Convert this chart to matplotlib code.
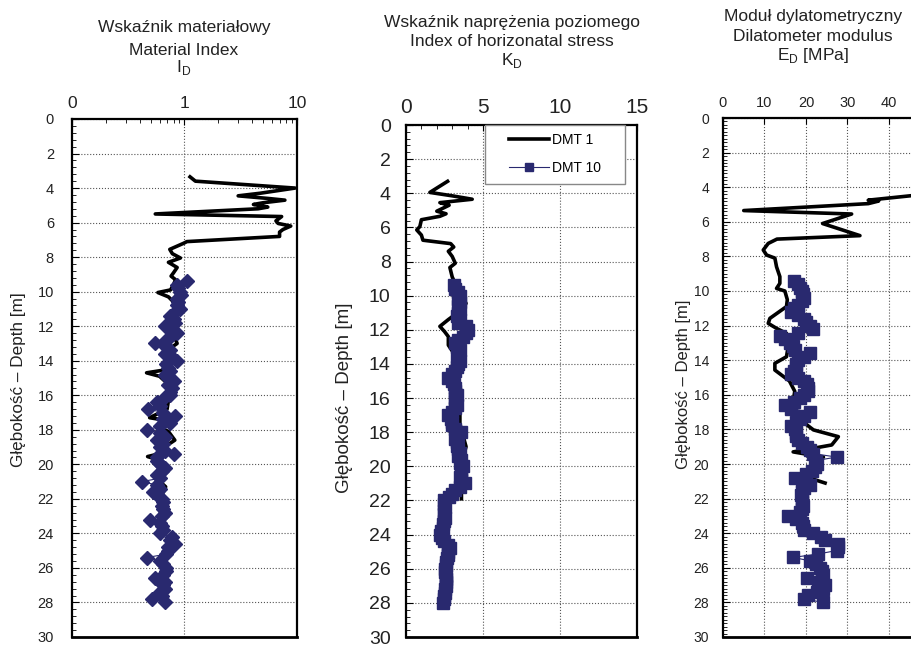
import numpy as np
import matplotlib
matplotlib.use("Agg")
import matplotlib.pyplot as plt
from matplotlib.ticker import MultipleLocator, FixedLocator, LogLocator, NullFormatter
from matplotlib.legend_handler import HandlerLine2D

plt.rcParams['font.family'] = ['Liberation Sans', 'DejaVu Sans']
plt.rcParams['mathtext.fontset'] = 'custom'
plt.rcParams['mathtext.rm'] = 'Liberation Sans'

NAVY = '#29296f'

# DMT 1 soundings (black line)
dmt1_id_depth = [3.35, 3.6, 4.0, 4.3, 4.45, 4.6, 4.7, 4.85, 4.95, 5.1, 5.2, 5.5, 5.65, 5.9, 6.05,
                 6.2, 6.4, 6.55, 6.8, 7.1, 7.2, 7.55, 7.8, 8.05, 8.3, 8.6, 8.9, 9.1, 9.3, 9.6,
                 9.9, 10.05, 10.3, 10.6, 11.0, 11.5, 12.0, 12.5, 13.0, 13.4, 13.8, 14.2, 14.5,
                 14.7, 14.9, 15.3, 15.8, 16.3, 16.8, 17.3, 17.5, 17.9, 18.1, 18.6, 18.9, 19.3,
                 19.55, 19.8, 20.2, 20.5, 20.8, 21.3, 21.6, 21.9]
dmt1_id = [1.12, 1.25, 9.6, 4.7, 3.0, 5.5, 7.8, 5.0, 4.1, 5.5, 4.5, 0.55, 7.3, 6.5, 6.8,
           8.8, 7.5, 7.0, 7.0, 1.05, 0.98, 0.74, 0.78, 0.92, 0.72, 0.86, 0.80, 0.76, 0.83, 0.80,
           0.75, 0.58, 0.72, 0.80, 0.85, 0.80, 0.78, 0.80, 0.86, 0.70, 0.78, 0.70, 0.72,
           0.46, 0.60, 0.70, 0.75, 0.72, 0.70, 0.49, 0.75, 0.62, 0.72, 0.82, 0.70, 0.68,
           0.47, 0.62, 0.68, 0.60, 0.56, 0.68, 0.65, 0.60]

dmt1_kd_depth = [3.3, 3.95, 4.15, 4.35, 4.55, 4.7, 5.05, 5.2, 5.35, 5.55, 5.95, 6.15, 6.45, 6.75,
                 6.95, 7.15, 7.4, 7.7, 8.1, 8.35, 8.9, 9.3, 9.8, 10.45, 10.9, 11.4, 11.8, 12.1,
                 12.4, 12.9, 13.5, 14.2, 15.0, 15.7, 16.5, 17.5, 18.2, 18.85, 19.5, 20.2, 20.8,
                 21.4, 21.9]
dmt1_kd = [2.7, 1.55, 3.0, 4.3, 2.2, 2.8, 2.0, 2.6, 2.2, 1.0, 0.9, 0.7, 1.0, 1.1,
           2.9, 3.1, 2.75, 3.0, 3.2, 2.85, 3.0, 3.2, 3.4, 3.9, 3.5, 2.75, 2.2, 2.5,
           2.75, 2.75, 3.2, 3.3, 3.4, 3.6, 3.5, 3.5, 3.7, 3.9, 3.7, 3.8, 3.7,
           3.6, 3.6]

dmt1_ed_depth = [4.45, 4.75, 4.8, 4.95, 5.35, 5.55, 6.1, 6.8, 7.0, 7.25, 7.63, 7.92, 8.1, 8.6,
                 9.17, 9.56, 9.85, 10.0, 10.5, 10.9, 11.58, 11.87, 12.16, 12.45, 13.2, 13.8,
                 14.18, 14.57, 15.2, 15.8, 16.9, 17.3, 17.7, 18.03, 18.42, 18.9, 19.3, 19.6,
                 20.0, 20.5, 20.9, 21.1]
dmt1_ed = [47.0, 35.0, 37.5, 35.0, 5.0, 31.0, 24.0, 33.0, 13.0, 10.9, 9.7, 10.5, 12.5, 12.9,
           13.7, 13.7, 12.9, 14.9, 15.5, 15.3, 11.3, 10.9, 12.9, 15.3, 15.7, 15.3,
           12.5, 12.5, 16.0, 17.3, 16.5, 17.7, 20.0, 21.8, 27.8, 26.2, 16.9, 24.2,
           22.0, 20.2, 22.0, 24.6]

# DMT 10 soundings (navy markers), every 0.2 m
dmt10_depth = [9.4, 9.6, 9.8, 10.0, 10.2, 10.4, 10.6, 10.8, 11.0, 11.2, 11.4, 11.6, 11.8, 12.0,
               12.2, 12.4, 12.6, 12.8, 13.0, 13.2, 13.4, 13.6, 13.8, 14.0, 14.2, 14.4, 14.6,
               14.8, 15.0, 15.2, 15.4, 15.6, 15.8, 16.0, 16.2, 16.4, 16.6, 16.8, 17.0, 17.2,
               17.4, 17.6, 17.8, 18.0, 18.2, 18.4, 18.6, 18.8, 19.0, 19.2, 19.4, 19.6, 19.8,
               20.0, 20.2, 20.4, 20.6, 20.8, 21.0, 21.2, 21.4, 21.6, 21.8, 22.0, 22.2, 22.4,
               22.6, 22.8, 23.0, 23.2, 23.4, 23.6, 23.8, 24.0, 24.2, 24.4, 24.6, 24.8, 25.0,
               25.2, 25.4, 25.6, 25.8, 26.0, 26.2, 26.4, 26.6, 26.8, 27.0, 27.2, 27.4, 27.6,
               27.8, 28.0]
dmt10_id = [1.05, 0.85, 0.88, 0.91, 0.94, 0.85, 0.88, 0.85, 0.91, 0.82, 0.74, 0.80, 0.82, 0.67,
            0.77, 0.85, 0.74, 0.69, 0.55, 0.69, 0.74, 0.67, 0.77, 0.85, 0.69, 0.72, 0.74,
            0.67, 0.72, 0.80, 0.72, 0.77, 0.74, 0.74, 0.65, 0.57, 0.61, 0.47, 0.65, 0.82,
            0.65, 0.74, 0.61, 0.46, 0.61, 0.67, 0.57, 0.65, 0.61, 0.67, 0.80, 0.57, 0.57,
            0.61, 0.67, 0.63, 0.57, 0.61, 0.42, 0.57, 0.61, 0.53, 0.57, 0.63, 0.65, 0.63,
            0.65, 0.67, 0.63, 0.49, 0.61, 0.63, 0.65, 0.61, 0.77, 0.74, 0.82, 0.72, 0.72,
            0.69, 0.46, 0.61, 0.65, 0.69, 0.69, 0.65, 0.55, 0.67, 0.65, 0.67, 0.61, 0.63,
            0.51, 0.67]
dmt10_kd = [3.1, 3.2, 3.4, 3.5, 3.4, 3.5, 3.4, 3.5, 3.4, 3.3, 3.5, 3.4, 3.9, 4.05,
            3.9, 3.7, 3.4, 3.2, 3.3, 3.5, 3.4, 3.3, 3.5, 3.4, 3.3, 3.2, 3.0,
            2.7, 3.0, 3.1, 3.2, 3.2, 3.3, 3.2, 3.2, 3.3, 3.2, 3.0, 2.75, 2.9,
            3.0, 3.0, 3.2, 3.6, 3.4, 3.2, 3.3, 3.3, 3.4, 3.5, 3.4, 3.6, 3.5,
            3.7, 3.6, 3.6, 3.5, 3.6, 3.8, 3.5, 3.2, 3.0, 2.8, 2.5, 2.5, 2.55,
            2.5, 2.5, 2.55, 2.5, 2.4, 2.4, 2.3, 2.2, 2.35, 2.5, 2.7, 2.85, 2.75,
            2.7, 2.65, 2.6, 2.6, 2.55, 2.55, 2.6, 2.6, 2.6, 2.6, 2.55, 2.55, 2.5,
            2.45, 2.4]
dmt10_ed = [17.0, 18.0, 18.5, 19.0, 19.2, 19.4, 19.0, 18.0, 17.0, 16.5, 18.0, 19.4, 20.0, 21.0,
            21.8, 18.0, 13.7, 15.0, 16.1, 16.8, 17.3, 20.9, 19.5, 18.0, 17.7, 17.5, 17.0,
            16.5, 18.0, 19.5, 20.2, 20.4, 20.6, 19.5, 18.5, 17.0, 14.9, 16.5, 21.0, 19.5,
            18.5, 17.5, 16.5, 17.3, 17.5, 17.7, 18.0, 19.0, 20.2, 21.0, 21.8, 27.4, 22.4,
            22.6, 22.2, 21.5, 20.0, 17.3, 19.0, 21.0, 19.5, 19.0, 18.8, 19.0, 19.0, 19.2,
            19.0, 18.5, 15.7, 17.5, 19.0, 19.2, 19.4, 21.8, 23.5, 24.5, 27.8, 27.6, 27.4,
            23.0, 16.9, 21.0, 22.5, 23.4, 23.8, 24.2, 20.2, 23.0, 24.6, 24.0, 22.6, 20.5,
            19.4, 24.2]

depth_ticks = [0, 2, 4, 6, 8, 10, 12, 14, 16, 18, 20, 22, 24, 26, 28, 30]
ylabel = 'Głębokość – Depth [m]'

fig = plt.figure(figsize=(9.12, 6.48), dpi=100)
W, H = 912.0, 648.0


def make_ax(left, right, top, bottom):
    return fig.add_axes([left / W, 1 - bottom / H, (right - left) / W, (bottom - top) / H])


def style(ax, ysize, ypad, minor_y, label_xy, label_size):
    ax.set_ylim(30, 0)
    ax.yaxis.set_major_locator(FixedLocator(depth_ticks))
    ax.yaxis.set_minor_locator(MultipleLocator(minor_y))
    ax.xaxis.tick_top()
    ax.tick_params(axis='both', which='both', direction='in', colors='black')
    ax.tick_params(axis='y', which='major', length=5, width=0.8, labelsize=ysize, pad=ypad, labelcolor='#222222')
    ax.tick_params(axis='y', which='minor', length=3, width=0.6)
    ax.tick_params(axis='x', which='major', length=4, width=0.8, labelcolor='#222222')
    ax.tick_params(axis='x', which='minor', length=3, width=0.6)
    ax.grid(True, which='major', linestyle=':', color='#555555', linewidth=0.8)
    for s in ax.spines.values():
        s.set_linewidth(1.6)
    ax.spines['bottom'].set_linewidth(2.0)
    ax.set_ylabel(ylabel, fontsize=label_size, color='#222222')
    ax.yaxis.set_label_coords(*label_xy)


# Panel 1 - I_D
ax1 = make_ax(72, 297, 119, 637)
ax1.plot(dmt1_id, dmt1_id_depth, color='black', linewidth=2.6, label='DMT 1')
ax1.plot(dmt10_id, dmt10_depth, color=NAVY, linewidth=0.8, marker='D', markersize=7.5, label='DMT 10')
ax1.set_xscale('log')
ax1.set_xlim(0.1, 10)
ax1.xaxis.set_major_locator(FixedLocator([0.1, 1, 10]))
ax1.xaxis.set_minor_locator(LogLocator(base=10, subs=np.arange(2, 10)))
ax1.xaxis.set_minor_formatter(NullFormatter())
ax1.set_xticklabels(['0', '1', '10'])
style(ax1, 10.5, 13, 0.4, (-0.205, 0.497), 12.3)
ax1.tick_params(axis='x', which='major', labelsize=12.5, pad=6)

# Panel 2 - K_D
ax2 = make_ax(406, 637, 125, 637)
ax2.plot(dmt1_kd, dmt1_kd_depth, color='black', linewidth=2.6, label='DMT 1')
ax2.plot(dmt10_kd, dmt10_depth, color=NAVY, linewidth=0.8, marker='s', markersize=8.5, label='DMT 10')
ax2.set_xlim(0, 15)
ax2.xaxis.set_major_locator(MultipleLocator(5))
ax2.xaxis.set_minor_locator(MultipleLocator(1))
style(ax2, 14, 11, 0.4, (-0.23, 0.467), 13.5)
ax2.tick_params(axis='x', which='major', labelsize=15, pad=6)
leg = ax2.legend(loc='upper left', bbox_to_anchor=(0.342, 0.886, 0.606, 0.114), mode='expand',
                 fontsize=10, handlelength=4.0, handletextpad=0.2, borderpad=0.6,
                 labelspacing=1.0, borderaxespad=0, fancybox=False, framealpha=1,
                 edgecolor='#888888', handler_map={plt.Line2D: HandlerLine2D(xpad=1.1)})
leg.get_frame().set_linewidth(1.0)
leg.legend_handles[1].set_markersize(6)

# Panel 3 - E_D (right part falls outside the picture)
ax3 = make_ax(723, 930.5, 118, 637)
ax3.plot(dmt1_ed, dmt1_ed_depth, color='black', linewidth=2.6, label='DMT 1')
ax3.plot(dmt10_ed, dmt10_depth, color=NAVY, linewidth=0.8, marker='s', markersize=8.5, label='DMT 10')
ax3.set_xlim(0, 50)
ax3.xaxis.set_major_locator(FixedLocator([0, 10, 20, 30, 40]))
style(ax3, 10, 10, 0.2, (-0.155, 0.486), 12)
ax3.tick_params(axis='x', which='major', labelsize=10.5, pad=6)

# Titles
title_font = dict(fontsize=12.5, color='#222222', ha='center', va='baseline')
fig.text(184 / W, 1 - 32 / H, 'Wskaźnik materiałowy', **title_font)
fig.text(184 / W, 1 - 55 / H, 'Material Index', **title_font)
fig.text(184 / W, 1 - 72 / H, r'I$_\mathrm{D}$', **title_font)

fig.text(512 / W, 1 - 27 / H, 'Wskaźnik naprężenia poziomego', **title_font)
fig.text(512 / W, 1 - 46 / H, 'Index of horizonatal stress', **title_font)
fig.text(512 / W, 1 - 65 / H, r'K$_\mathrm{D}$', **title_font)

fig.text(813 / W, 1 - 21 / H, 'Moduł dylatometryczny', **title_font)
fig.text(813 / W, 1 - 41 / H, 'Dilatometer modulus', **title_font)
fig.text(813 / W, 1 - 60 / H, r'E$_\mathrm{D}$ [MPa]', **title_font)

fig.savefig('out.png', dpi=100)
